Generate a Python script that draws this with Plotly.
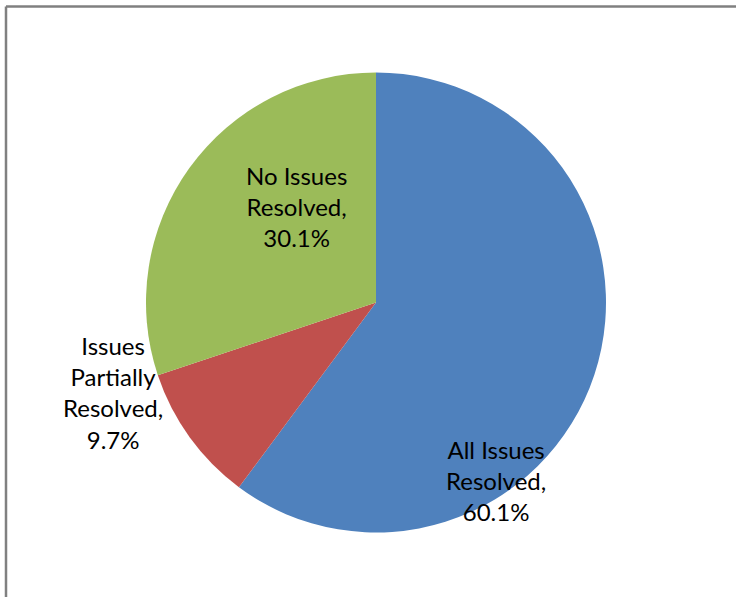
import plotly.graph_objects as go

labels = ["All Issues Resolved", "Issues Partially Resolved", "No Issues Resolved"]
values = [60.1, 9.7, 30.1]
colors = ["#4F81BD", "#C0504D", "#9BBB59"]
label_lines = [["All Issues", "Resolved,"], ["Issues", "Partially", "Resolved,"], ["No Issues", "Resolved,"]]
label_pos = [(496, 480), (113, 392), (296, 206)]

W, H = 736, 597
cx, cy, r = 376, 302.5, 230

fig = go.Figure(go.Pie(
    labels=labels, values=values, sort=False, direction="clockwise", rotation=0,
    marker=dict(colors=colors, line=dict(width=0)), textinfo="none", hoverinfo="label+percent",
    domain=dict(x=[(cx - r) / W, (cx + r) / W], y=[(H - cy - r) / H, (H - cy + r) / H]),
    showlegend=False,
))

for lines, v, (x, y) in zip(label_lines, values, label_pos):
    fig.add_annotation(text="<br>".join(lines + [f"{v:.1f}%"]), x=x / W, y=1 - y / H,
                       xref="paper", yref="paper", showarrow=False, xanchor="center", yanchor="middle",
                       align="center", font=dict(family="Lato", size=24, color="#000000"))

border = dict(color="#808080", width=2.5)
fig.add_shape(type="line", xref="paper", yref="paper", x0=6 / W, x1=1.0,
              y0=1 - 6.5 / H, y1=1 - 6.5 / H, line=border)
fig.add_shape(type="line", xref="paper", yref="paper", x0=6 / W, x1=6 / W,
              y0=0.0, y1=1 - 6.5 / H, line=border)

fig.update_layout(width=W, height=H, margin=dict(l=0, r=0, t=0, b=0),
                  paper_bgcolor="white", plot_bgcolor="white")
fig.write_html("out.html", config={"displayModeBar": False},
               post_script="document.documentElement.style.overflow='hidden';"
                           "document.body.style.margin='0';document.body.style.overflow='hidden';")
